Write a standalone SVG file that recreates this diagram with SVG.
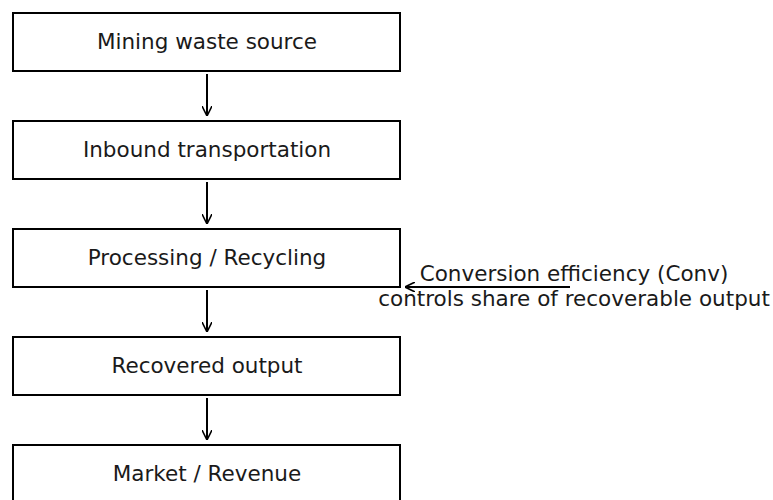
<svg xmlns="http://www.w3.org/2000/svg" width="773" height="500" viewBox="0 0 773 500">
<defs>
<style>
.box{fill:#fff;stroke:#000;stroke-width:2}
.t{font-family:"DejaVu Sans",sans-serif;font-size:21.5px;fill:#1a1a1a;text-anchor:middle}
.c{stroke:#000;stroke-width:2;fill:none}
</style>
<marker id="ah" viewBox="0 0 10 10" refX="10" refY="5" markerWidth="10" markerHeight="10" markerUnits="userSpaceOnUse" orient="auto">
<path d="M0,0 L10,5 L0,10" fill="none" stroke="#000" stroke-width="1.6"/>
</marker>
</defs>
<rect width="773" height="500" fill="#fff"/>
<g id="n1"><rect class="box" x="13" y="13" width="387" height="58"/><text class="t" x="207" y="49">Mining waste source</text></g>
<g id="n2"><rect class="box" x="13" y="121" width="387" height="58"/><text class="t" x="207" y="157">Inbound transportation</text></g>
<g id="n3"><rect class="box" x="13" y="229" width="387" height="58"/><text class="t" x="207" y="265">Processing / Recycling</text></g>
<g id="n4"><rect class="box" x="13" y="337" width="387" height="58"/><text class="t" x="207" y="373">Recovered output</text></g>
<g id="n5"><rect class="box" x="13" y="445" width="387" height="60"/><text class="t" x="207" y="481">Market / Revenue</text></g>
<g id="connectors">
<line class="c" x1="207" y1="74" x2="207" y2="116" marker-end="url(#ah)"/>
<line class="c" x1="207" y1="182" x2="207" y2="224" marker-end="url(#ah)"/>
<line class="c" x1="207" y1="290" x2="207" y2="332" marker-end="url(#ah)"/>
<line class="c" x1="207" y1="398" x2="207" y2="440" marker-end="url(#ah)"/>
<line class="c" x1="570" y1="287" x2="405" y2="287" marker-end="url(#ah)"/>
</g>
<g id="label">
<text class="t" x="574" y="281">Conversion efficiency (Conv)</text>
<text class="t" x="574" y="306">controls share of recoverable output</text>
</g>
</svg>
